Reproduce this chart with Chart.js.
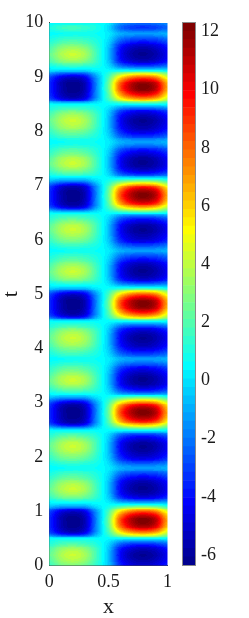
<!DOCTYPE html>
<html><head><meta charset="utf-8">
<script src="https://cdn.jsdelivr.net/npm/chart.js@4.4.1/dist/chart.umd.min.js"></script>
<style>
html,body{margin:0;padding:0;background:#fff;width:249px;height:618px;overflow:hidden;}
#main{position:absolute;left:0;top:0;}
#cbar{position:absolute;left:176px;top:0;}
</style></head><body>
<canvas id="main" width="178" height="618"></canvas>
<canvas id="cbar" width="73" height="618"></canvas>
<script>
// ---- data ----
const xGrid = [0,0.1,0.2,0.3,0.4,0.5,0.6,0.7,0.8,0.9,1];
const tGrid = [0,0.1,0.2,0.3,0.4,0.5,0.6,0.7,0.8,0.9,1,1.1,1.2,1.3,1.4,1.5,1.6,1.7,1.8,1.9,
2,2.1,2.2,2.3,2.4,2.5,2.6,2.7,2.8,2.9,3,3.1,3.2,3.3,3.4,3.5,3.6,3.7,3.8,3.9,
4,4.1,4.2,4.3,4.4,4.5,4.6,4.7,4.8,4.9,5,5.1,5.2,5.3,5.4,5.5,5.6,5.7,5.8,5.9,
6,6.1,6.2,6.3,6.4,6.5,6.6,6.7,6.8,6.9,7,7.1,7.2,7.3,7.4,7.5,7.6,7.7,7.8,7.9,
8,8.1,8.2,8.3,8.4,8.5,8.6,8.7,8.8,8.9,9,9.1,9.2,9.3,9.4,9.5,9.6,9.7,9.8,9.9,10];
// u(x,t): one row per t value, one column per x value
const uValues = [
[1.5,2.5,2.8,2.4,1.2,-0.4,-3.4,-4.7,-5.0,-4.6,-3.6],
[2.0,3.3,3.8,3.2,1.5,-0.5,-3.9,-5.4,-5.8,-5.3,-4.2],
[2.3,3.6,4.2,3.5,1.6,-0.5,-4.1,-5.7,-6.1,-5.6,-4.4],
[1.9,3.1,3.6,3.0,1.5,-0.4,-3.7,-5.0,-5.4,-5.0,-3.9],
[1.1,1.8,2.0,1.7,1.0,-0.1,-2.3,-3.2,-3.4,-3.1,-2.4],
[0.3,0.2,0.2,0.2,0.4,0.55,0.7,0.9,1.0,0.9,0.6],
[-2.8,-4.4,-5.0,-4.3,-1.1,1.5,4.8,6.5,7.0,6.3,3.9],
[-3.4,-5.4,-6.1,-5.2,-1.4,2.0,7.3,10.0,10.8,9.7,5.9],
[-3.5,-5.5,-6.3,-5.4,-1.5,2.2,8.3,11.3,12.2,11.0,6.7],
[-3.4,-5.5,-6.2,-5.3,-1.5,2.1,7.8,10.7,11.5,10.4,6.3],
[-2.8,-4.4,-5.0,-4.3,-1.1,1.6,5.4,7.4,8.0,7.2,4.4],
[-0.5,-0.9,-1.0,-0.9,0.1,0.7,1.4,1.9,2.0,1.8,1.1],
[0.8,1.3,1.5,1.3,0.9,0.0,-2.0,-2.8,-3.0,-2.8,-2.2],
[1.8,2.9,3.3,2.8,1.4,-0.4,-3.7,-5.0,-5.4,-5.0,-3.9],
[2.3,3.6,4.2,3.5,1.6,-0.5,-4.1,-5.7,-6.1,-5.6,-4.4],
[2.0,3.3,3.8,3.2,1.5,-0.5,-4.0,-5.5,-5.9,-5.4,-4.2],
[1.4,2.3,2.6,2.2,1.2,-0.3,-3.3,-4.5,-4.8,-4.4,-3.5],
[0.9,1.4,1.6,1.4,0.9,0.0,-2.0,-2.8,-3.0,-2.8,-2.2],
[0.5,0.6,0.7,0.7,0.6,0.2,-0.9,-1.2,-1.3,-1.2,-0.9],
[0.9,1.5,1.7,1.4,0.9,-0.1,-2.2,-3.0,-3.2,-2.9,-2.3],
// t = 2.0
[1.5,2.5,2.8,2.4,1.2,-0.4,-3.4,-4.7,-5.0,-4.6,-3.6],
[2.0,3.3,3.8,3.2,1.5,-0.5,-3.9,-5.4,-5.8,-5.3,-4.2],
[2.3,3.6,4.2,3.5,1.6,-0.5,-4.1,-5.7,-6.1,-5.6,-4.4],
[1.9,3.1,3.6,3.0,1.5,-0.4,-3.7,-5.0,-5.4,-5.0,-3.9],
[1.1,1.8,2.0,1.7,1.0,-0.1,-2.3,-3.2,-3.4,-3.1,-2.4],
[0.3,0.2,0.2,0.2,0.4,0.55,0.7,0.9,1.0,0.9,0.6],
[-2.8,-4.4,-5.0,-4.3,-1.1,1.5,4.8,6.5,7.0,6.3,3.9],
[-3.4,-5.4,-6.1,-5.2,-1.4,2.0,7.3,10.0,10.8,9.7,5.9],
[-3.5,-5.5,-6.3,-5.4,-1.5,2.2,8.3,11.3,12.2,11.0,6.7],
[-3.4,-5.5,-6.2,-5.3,-1.5,2.1,7.8,10.7,11.5,10.4,6.3],
[-2.8,-4.4,-5.0,-4.3,-1.1,1.6,5.4,7.4,8.0,7.2,4.4],
[-0.5,-0.9,-1.0,-0.9,0.1,0.7,1.4,1.9,2.0,1.8,1.1],
[0.8,1.3,1.5,1.3,0.9,0.0,-2.0,-2.8,-3.0,-2.8,-2.2],
[1.8,2.9,3.3,2.8,1.4,-0.4,-3.7,-5.0,-5.4,-5.0,-3.9],
[2.3,3.6,4.2,3.5,1.6,-0.5,-4.1,-5.7,-6.1,-5.6,-4.4],
[2.0,3.3,3.8,3.2,1.5,-0.5,-4.0,-5.5,-5.9,-5.4,-4.2],
[1.4,2.3,2.6,2.2,1.2,-0.3,-3.3,-4.5,-4.8,-4.4,-3.5],
[0.9,1.4,1.6,1.4,0.9,0.0,-2.0,-2.8,-3.0,-2.8,-2.2],
[0.5,0.6,0.7,0.7,0.6,0.2,-0.9,-1.2,-1.3,-1.2,-0.9],
[0.9,1.5,1.7,1.4,0.9,-0.1,-2.2,-3.0,-3.2,-2.9,-2.3],
// t = 4.0
[1.5,2.5,2.8,2.4,1.2,-0.4,-3.4,-4.7,-5.0,-4.6,-3.6],
[2.0,3.3,3.8,3.2,1.5,-0.5,-3.9,-5.4,-5.8,-5.3,-4.2],
[2.3,3.6,4.2,3.5,1.6,-0.5,-4.1,-5.7,-6.1,-5.6,-4.4],
[1.9,3.1,3.6,3.0,1.5,-0.4,-3.7,-5.0,-5.4,-5.0,-3.9],
[1.1,1.8,2.0,1.7,1.0,-0.1,-2.3,-3.2,-3.4,-3.1,-2.4],
[0.3,0.2,0.2,0.2,0.4,0.55,0.7,0.9,1.0,0.9,0.6],
[-2.8,-4.4,-5.0,-4.3,-1.1,1.5,4.8,6.5,7.0,6.3,3.9],
[-3.4,-5.4,-6.1,-5.2,-1.4,2.0,7.3,10.0,10.8,9.7,5.9],
[-3.5,-5.5,-6.3,-5.4,-1.5,2.2,8.3,11.3,12.2,11.0,6.7],
[-3.4,-5.5,-6.2,-5.3,-1.5,2.1,7.8,10.7,11.5,10.4,6.3],
[-2.8,-4.4,-5.0,-4.3,-1.1,1.6,5.4,7.4,8.0,7.2,4.4],
[-0.5,-0.9,-1.0,-0.9,0.1,0.7,1.4,1.9,2.0,1.8,1.1],
[0.8,1.3,1.5,1.3,0.9,0.0,-2.0,-2.8,-3.0,-2.8,-2.2],
[1.8,2.9,3.3,2.8,1.4,-0.4,-3.7,-5.0,-5.4,-5.0,-3.9],
[2.3,3.6,4.2,3.5,1.6,-0.5,-4.1,-5.7,-6.1,-5.6,-4.4],
[2.0,3.3,3.8,3.2,1.5,-0.5,-4.0,-5.5,-5.9,-5.4,-4.2],
[1.4,2.3,2.6,2.2,1.2,-0.3,-3.3,-4.5,-4.8,-4.4,-3.5],
[0.9,1.4,1.6,1.4,0.9,0.0,-2.0,-2.8,-3.0,-2.8,-2.2],
[0.5,0.6,0.7,0.7,0.6,0.2,-0.9,-1.2,-1.3,-1.2,-0.9],
[0.9,1.5,1.7,1.4,0.9,-0.1,-2.2,-3.0,-3.2,-2.9,-2.3],
// t = 6.0
[1.5,2.5,2.8,2.4,1.2,-0.4,-3.4,-4.7,-5.0,-4.6,-3.6],
[2.0,3.3,3.8,3.2,1.5,-0.5,-3.9,-5.4,-5.8,-5.3,-4.2],
[2.3,3.6,4.2,3.5,1.6,-0.5,-4.1,-5.7,-6.1,-5.6,-4.4],
[1.9,3.1,3.6,3.0,1.5,-0.4,-3.7,-5.0,-5.4,-5.0,-3.9],
[1.1,1.8,2.0,1.7,1.0,-0.1,-2.3,-3.2,-3.4,-3.1,-2.4],
[0.3,0.2,0.2,0.2,0.4,0.55,0.7,0.9,1.0,0.9,0.6],
[-2.8,-4.4,-5.0,-4.3,-1.1,1.5,4.8,6.5,7.0,6.3,3.9],
[-3.4,-5.4,-6.1,-5.2,-1.4,2.0,7.3,10.0,10.8,9.7,5.9],
[-3.5,-5.5,-6.3,-5.4,-1.5,2.2,8.3,11.3,12.2,11.0,6.7],
[-3.4,-5.5,-6.2,-5.3,-1.5,2.1,7.8,10.7,11.5,10.4,6.3],
[-2.8,-4.4,-5.0,-4.3,-1.1,1.6,5.4,7.4,8.0,7.2,4.4],
[-0.5,-0.9,-1.0,-0.9,0.1,0.7,1.4,1.9,2.0,1.8,1.1],
[0.8,1.3,1.5,1.3,0.9,0.0,-2.0,-2.8,-3.0,-2.8,-2.2],
[1.8,2.9,3.3,2.8,1.4,-0.4,-3.7,-5.0,-5.4,-5.0,-3.9],
[2.3,3.6,4.2,3.5,1.6,-0.5,-4.1,-5.7,-6.1,-5.6,-4.4],
[2.0,3.3,3.8,3.2,1.5,-0.5,-4.0,-5.5,-5.9,-5.4,-4.2],
[1.4,2.3,2.6,2.2,1.2,-0.3,-3.3,-4.5,-4.8,-4.4,-3.5],
[0.9,1.4,1.6,1.4,0.9,0.0,-2.0,-2.8,-3.0,-2.8,-2.2],
[0.5,0.6,0.7,0.7,0.6,0.2,-0.9,-1.2,-1.3,-1.2,-0.9],
[0.9,1.5,1.7,1.4,0.9,-0.1,-2.2,-3.0,-3.2,-2.9,-2.3],
// t = 8.0
[1.5,2.5,2.8,2.4,1.2,-0.4,-3.4,-4.7,-5.0,-4.6,-3.6],
[2.0,3.3,3.8,3.2,1.5,-0.5,-3.9,-5.4,-5.8,-5.3,-4.2],
[2.3,3.6,4.2,3.5,1.6,-0.5,-4.1,-5.7,-6.1,-5.6,-4.4],
[1.9,3.1,3.6,3.0,1.5,-0.4,-3.7,-5.0,-5.4,-5.0,-3.9],
[1.1,1.8,2.0,1.7,1.0,-0.1,-2.3,-3.2,-3.4,-3.1,-2.4],
[0.3,0.2,0.2,0.2,0.4,0.55,0.7,0.9,1.0,0.9,0.6],
[-2.8,-4.4,-5.0,-4.3,-1.1,1.5,4.8,6.5,7.0,6.3,3.9],
[-3.4,-5.4,-6.1,-5.2,-1.4,2.0,7.3,10.0,10.8,9.7,5.9],
[-3.5,-5.5,-6.3,-5.4,-1.5,2.2,8.3,11.3,12.2,11.0,6.7],
[-3.4,-5.5,-6.2,-5.3,-1.5,2.1,7.8,10.7,11.5,10.4,6.3],
[-2.8,-4.4,-5.0,-4.3,-1.1,1.6,5.4,7.4,8.0,7.2,4.4],
[-0.5,-0.9,-1.0,-0.9,0.1,0.7,1.4,1.9,2.0,1.8,1.1],
[0.8,1.3,1.5,1.3,0.9,0.0,-2.0,-2.8,-3.0,-2.8,-2.2],
[1.8,2.9,3.3,2.8,1.4,-0.4,-3.7,-5.0,-5.4,-5.0,-3.9],
[2.3,3.6,4.2,3.5,1.6,-0.5,-4.1,-5.7,-6.1,-5.6,-4.4],
[2.0,3.3,3.8,3.2,1.5,-0.5,-4.0,-5.5,-5.9,-5.4,-4.2],
[1.4,2.3,2.6,2.2,1.2,-0.3,-3.3,-4.5,-4.8,-4.4,-3.5],
[0.9,1.4,1.6,1.4,0.9,0.0,-2.0,-2.8,-3.0,-2.8,-2.2],
[0.5,0.6,0.7,0.7,0.6,0.2,-0.9,-1.2,-1.3,-1.2,-0.9],
[0.9,1.5,1.7,1.4,0.9,-0.1,-2.2,-3.0,-3.2,-2.9,-2.3],
// t = 10.0
[0.5,0.6,0.7,0.7,0.6,0.2,-1.5,-2.1,-2.3,-2.1,-1.7]
];
const xTicks = [0,0.5,1];
const xTickLabels = ['0','0.5','1'];
const tTicks = [0,1,2,3,4,5,6,7,8,9,10];
const tTickLabels = ['0','1','2','3','4','5','6','7','8','9','10'];
const cbarTicks = [-6,-4,-2,0,2,4,6,8,10,12];
const cbarTickLabels = ['-6','-4','-2','0','2','4','6','8','10','12'];
const colorMin = -6.35, colorMax = 12.3;

// ---- jet(64) colormap ----
function jet64(){
  const n=64,m=16,u=[];
  for(let i=1;i<=m;i++)u.push(i/m);
  for(let i=0;i<m-1;i++)u.push(1);
  for(let i=m;i>=1;i--)u.push(i/m);
  const J=[];for(let i=0;i<n;i++)J.push([0,0,0]);
  for(let k=0;k<u.length;k++){
    const g=8+k+1,r=g+m,b=g-m;
    if(r<=n)J[r-1][0]=u[k];
    if(g<=n)J[g-1][1]=u[k];
    if(b>=1)J[b-1][2]=u[k];
  }
  return J.map(c=>'rgb('+Math.round(c[0]*255)+','+Math.round(c[1]*255)+','+Math.round(c[2]*255)+')');
}
const cmap = jet64();
function colorFor(v){
  let k=Math.floor((v-colorMin)/(colorMax-colorMin)*64);
  if(k<0)k=0;if(k>63)k=63;
  return cmap[k];
}

const FONT = "'Liberation Serif','Times New Roman',serif";
const TXT = '#1a1a1a';

// smooth (bicubic) shading between grid nodes
function cr(p0,p1,p2,p3,t){
  return 0.5*(2*p1+(-p0+p2)*t+(2*p0-5*p1+4*p2-p3)*t*t+(-p0+3*p1-3*p2+p3)*t*t*t);
}
function nodeVal(i,j){
  i=Math.max(0,Math.min(tGrid.length-1,i));
  j=Math.max(0,Math.min(xGrid.length-1,j));
  return uValues[i][j];
}
function shade(i,j,fx,fy){
  const r=[];
  for(let di=-1;di<=2;di++){
    r.push(cr(nodeVal(i+di,j-1),nodeVal(i+di,j),nodeVal(i+di,j+1),nodeVal(i+di,j+2),fx));
  }
  return cr(r[0],r[1],r[2],r[3],fy);
}

// ---- heatmap drawn through the chart scales ----
const heatPlugin = {
  id:'heat',
  beforeDatasetsDraw(chart){
    const {ctx, chartArea:a} = chart;
    const xs = chart.scales.x, ys = chart.scales.y;
    ctx.save();
    ctx.beginPath();ctx.rect(a.left,a.top,a.right-a.left,a.bottom-a.top);ctx.clip();
    for(let i=0;i<tGrid.length-1;i++){
      const y0=ys.getPixelForValue(tGrid[i]), y1=ys.getPixelForValue(tGrid[i+1]);
      const ny=Math.max(1,Math.ceil(Math.abs(y1-y0)));
      for(let j=0;j<xGrid.length-1;j++){
        const x0=xs.getPixelForValue(xGrid[j]), x1=xs.getPixelForValue(xGrid[j+1]);
        const nx=Math.max(1,Math.ceil(Math.abs(x1-x0)));
        for(let sx=0;sx<nx;sx++){
          const fx=(sx+0.5)/nx;
          const px0=Math.round(x0+(x1-x0)*sx/nx), px1=Math.round(x0+(x1-x0)*(sx+1)/nx);
          if(px1<=px0)continue;
          for(let sy=0;sy<ny;sy++){
            const fy=(sy+0.5)/ny;
            const py0=Math.round(y0+(y1-y0)*sy/ny), py1=Math.round(y0+(y1-y0)*(sy+1)/ny);
            if(py0===py1)continue;
            ctx.fillStyle=colorFor(shade(i,j,fx,fy));
            ctx.fillRect(px0,Math.min(py0,py1),px1-px0,Math.abs(py1-py0));
          }
        }
      }
    }
    ctx.restore();
  }
};

const nodes=[];
for(let i=0;i<tGrid.length;i++)for(let j=0;j<xGrid.length;j++)nodes.push({x:xGrid[j],y:tGrid[i],v:uValues[i][j]});

new Chart(document.getElementById('main'),{
  type:'scatter',
  data:{datasets:[{data:nodes,pointRadius:0,pointHoverRadius:0}]},
  options:{
    responsive:false,animation:false,events:[],
    layout:{padding:{left:0,right:4.5,top:22.7,bottom:0}},
    plugins:{legend:{display:false},tooltip:{enabled:false}},
    scales:{
      x:{type:'linear',min:0,max:1,z:1,
        grid:{display:true,drawOnChartArea:false,drawTicks:false},
        border:{display:true,color:'#404040',width:1},
        ticks:{padding:6,color:TXT,font:{family:FONT,size:18},maxRotation:0,callback:(v,i)=>xTickLabels[i]},
        afterBuildTicks:s=>{s.ticks=xTicks.map(v=>({value:v}));},
        afterFit:s=>{s.height=52.5;},
        title:{display:true,text:'x',color:TXT,font:{family:FONT,size:22,lineHeight:1},padding:0}
      },
      y:{type:'linear',min:0,max:10,z:1,
        grid:{display:true,drawOnChartArea:false,drawTicks:false},
        border:{display:true,color:'#404040',width:1},
        ticks:{padding:6,color:TXT,font:{family:FONT,size:18},callback:(v,i)=>tTickLabels[i]},
        afterBuildTicks:s=>{s.ticks=tTicks.map(v=>({value:v}));},
        afterFit:s=>{s.width=49.3;},
        title:{display:true,text:'t',color:TXT,font:{family:FONT,size:22,lineHeight:1},padding:0}
      }
    }
  },
  plugins:[heatPlugin]
});

// ---- colorbar ----
const step=(colorMax-colorMin)/64;
const cbarSets=cmap.map((c,k)=>({data:[[colorMin+k*step,colorMin+(k+1)*step]],backgroundColor:c,borderWidth:0,grouped:false,barPercentage:1,categoryPercentage:1}));
const framePlugin={
  id:'frame',
  afterDraw(chart){
    const {ctx,chartArea:a}=chart;
    ctx.save();ctx.strokeStyle='#8a8a8a';ctx.lineWidth=1;
    ctx.strokeRect(Math.round(a.left)-0.5,Math.round(a.top)-0.5,Math.round(a.right)-Math.round(a.left)+1,Math.round(a.bottom)-Math.round(a.top)+1);
    ctx.restore();
  }
};
new Chart(document.getElementById('cbar'),{
  type:'bar',
  data:{labels:[''],datasets:cbarSets},
  options:{
    responsive:false,animation:false,events:[],
    layout:{padding:{left:6.7,right:0,top:22.7,bottom:52.7}},
    plugins:{legend:{display:false},tooltip:{enabled:false}},
    scales:{
      x:{display:false},
      y:{position:'right',min:colorMin,max:colorMax,z:1,
        grid:{display:true,drawOnChartArea:false,drawTicks:true,tickLength:-4,color:'#262626',lineWidth:1},
        border:{display:false},
        ticks:{padding:9.7,color:TXT,font:{family:FONT,size:18},callback:(v,i)=>cbarTickLabels[i]},
        afterBuildTicks:s=>{s.ticks=cbarTicks.map(v=>({value:v}));},
        afterFit:s=>{s.width=53.7;}
      }
    }
  },
  plugins:[framePlugin]
});
</script></body></html>
